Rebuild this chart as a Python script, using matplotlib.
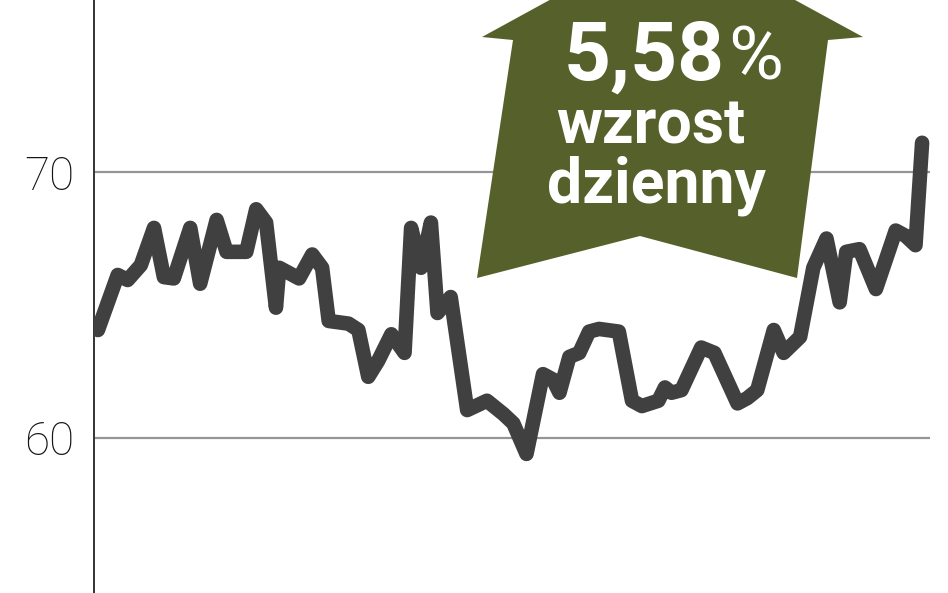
import matplotlib
matplotlib.use("Agg")
import matplotlib.pyplot as plt
from matplotlib.patches import Polygon

# session number (trading day) and closing price
days = [0, 6, 9, 13, 17, 20, 23, 28, 31, 36, 39, 45, 48, 51, 54, 55, 61, 65, 68, 70,
        76, 79, 82, 85, 89, 93, 95, 98, 101, 103, 107, 112, 118, 123, 126, 130, 135, 138, 140, 143,
        146, 149, 152, 158, 162, 165, 170, 172, 174, 177, 183, 187, 194, 197, 200, 205, 208, 213, 217, 221,
        225, 227, 231, 236, 242, 245, 248, 250]
prices = [64.06, 66.13, 65.94, 66.5, 67.9, 66.05, 66.0, 67.9, 65.8, 68.2, 67.0, 67.0, 68.6, 68.1, 64.9, 66.4, 66.0, 66.9, 66.4, 64.4,
          64.3, 64.06, 62.3, 62.9, 63.9, 63.2, 67.9, 66.4, 68.1, 64.7, 65.3, 61.05, 61.4, 60.9, 60.55, 59.4, 62.4, 62.2, 61.7, 63.05,
          63.2, 64.0, 64.1, 64.0, 61.4, 61.2, 61.4, 61.9, 61.7, 61.8, 63.4, 63.2, 61.3, 61.5, 61.8, 64.06, 63.2, 63.8, 66.4, 67.5,
          65.1, 67.0, 67.1, 65.6, 67.8, 67.6, 67.25, 71.1]
yticks = [60, 70]
headline = "5,58"
caption = ["wzrost", "dzienny"]

W, H = 948, 593
fig = plt.figure(figsize=(W / 100, H / 100), dpi=100)
fig.patch.set_facecolor("white")

ax = fig.add_axes([94 / W, 0, (930 - 94) / W, 1])
ax.set_xlim(-1.2, 252.4)
ax.set_ylim(54.17, 76.47)

for v in yticks:
    ax.axhline(v, color="#959595", lw=1.6, zorder=1)

ax.plot(days, prices, color="#404040", lw=10.5, solid_capstyle="round",
        solid_joinstyle="round", zorder=3)

for s in ["top", "right", "bottom"]:
    ax.spines[s].set_visible(False)
ax.spines["left"].set_color("#333333")
ax.spines["left"].set_linewidth(1.4)
ax.set_xticks([])
ax.set_yticks(yticks)
ax.set_yticklabels([str(v) for v in yticks], fontsize=33, color="#151515",
                   family=["Roboto", "DejaVu Sans"], fontweight="light")
ax.tick_params(axis="y", length=0, pad=14)

# olive arrow in pixel coordinates of the figure
def px(x, y):
    return (x / W, 1 - y / H)

arrow = [px(482, 37), px(672, -67), px(863, 37), px(828, 40), px(797, 278),
         px(640, 236), px(477, 278), px(513, 40)]
fig.patches.append(Polygon(arrow, closed=True, transform=fig.transFigure,
                           facecolor="#56602a", edgecolor="none", zorder=5))

fam = ["Roboto", "DejaVu Sans"]
fig.text(*px(725, 80), headline, color="white", fontsize=59, fontweight="bold",
         family=fam, ha="right", va="baseline", zorder=6)
fig.text(*px(728, 79), "%", color="white", fontsize=54, family=fam,
         ha="left", va="baseline", zorder=6)
fig.text(*px(651, 143), caption[0], color="white", fontsize=45, fontweight="bold",
         family=fam, ha="center", va="baseline", zorder=6)
fig.text(*px(656, 202), caption[1], color="white", fontsize=45, fontweight="bold",
         family=fam, ha="center", va="baseline", zorder=6)

fig.savefig("out.png", dpi=100, facecolor="white")
